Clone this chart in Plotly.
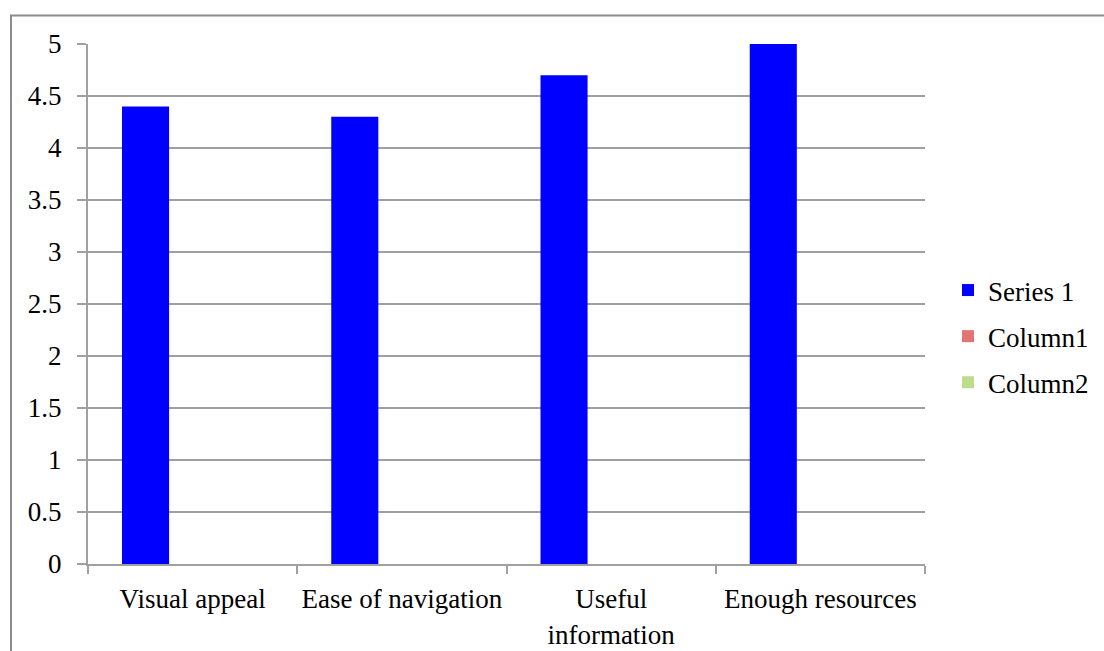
import plotly.graph_objects as go

categories = ["Visual appeal", "Ease of navigation", "Useful<br>information", "Enough resources"]
series1 = [4.4, 4.3, 4.7, 5.0]
column1 = [None, None, None, None]
column2 = [None, None, None, None]
y_ticks = [0, 0.5, 1, 1.5, 2, 2.5, 3, 3.5, 4, 4.5, 5]

FONT = "Liberation Serif"
L, R, T, B = 88, 179, 44, 87
W, H = 1104, 651
pw = W - L - R
ph = H - T - B

fig = go.Figure()
fig.add_trace(go.Bar(x=categories, y=series1, name="Series 1", marker_color="#0000FF",
                     marker_line_width=0, legendgroup="a"))
fig.add_trace(go.Bar(x=categories, y=column1, name="Column1", marker_color="#E37474",
                     marker_line_width=0, legendgroup="b"))
fig.add_trace(go.Bar(x=categories, y=column2, name="Column2", marker_color="#BEDD88",
                     marker_line_width=0, legendgroup="c"))

grid = "#A0A0A0"
fig.update_layout(
    width=W, height=H,
    margin=dict(l=L, r=R, t=T, b=B, autoexpand=False),
    paper_bgcolor="white", plot_bgcolor="white",
    barmode="group", bargap=0.325, bargroupgap=0,
    font=dict(family=FONT, size=26, color="black"),
    showlegend=True,
    legend=dict(x=(948 - L) / pw, xanchor="left", y=(563.5 - 336) / ph, yanchor="middle",
                font=dict(family=FONT, size=27, color="black"),
                tracegroupgap=8, bgcolor="rgba(0,0,0,0)"),
    xaxis=dict(type="category", showline=True, linecolor=grid, linewidth=2,
               ticks="outside", tickson="boundaries", ticklen=8, tickcolor=grid, tickwidth=2,
               showgrid=False, ticklabelstandoff=10, tickangle=0, automargin=False,
               tickfont=dict(family=FONT, size=27, color="black")),
    yaxis=dict(range=[0, 5], tickvals=y_ticks, ticktext=[f"{v:g}" for v in y_ticks],
               showline=True, linecolor=grid, linewidth=2,
               ticks="outside", ticklen=9, tickcolor=grid, tickwidth=2,
               showgrid=True, gridcolor=grid, gridwidth=2, zeroline=False,
               ticklabelstandoff=10, automargin=False,
               tickfont=dict(family=FONT, size=27, color="black")),
    shapes=[dict(type="rect", xref="paper", yref="paper",
                 x0=(11 - L) / pw, x1=1.5, y0=-1, y1=(563.5 - 15) / ph,
                 line=dict(color="#8C8C8C", width=2), fillcolor="rgba(0,0,0,0)", layer="below")],
)

fig.write_html("out.html")
